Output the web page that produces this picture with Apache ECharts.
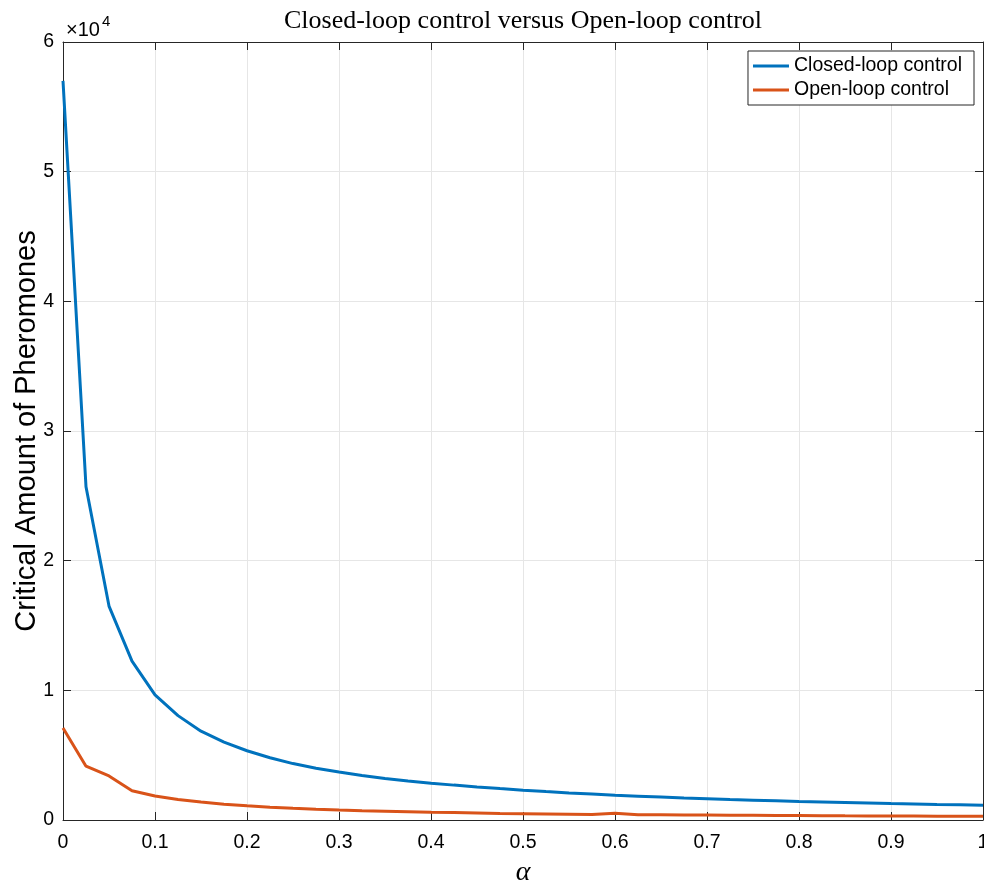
<!DOCTYPE html>
<html>
<head>
<meta charset="utf-8">
<script src="https://cdn.jsdelivr.net/npm/echarts@6/dist/echarts.min.js"></script>
<style>
html, body { margin: 0; padding: 0; background: #fff; }
#chart { width: 984px; height: 887px; }
</style>
</head>
<body>
<div id="chart"></div>
<script>
// alpha sample points (step 0.025)
const alphaValues = [0, 0.025, 0.05, 0.075, 0.1, 0.125, 0.15, 0.175, 0.2, 0.225, 0.25, 0.275, 0.3, 0.325, 0.35, 0.375, 0.4, 0.425, 0.45, 0.475, 0.5, 0.525, 0.55, 0.575, 0.6, 0.625, 0.65, 0.675, 0.7, 0.725, 0.75, 0.775, 0.8, 0.825, 0.85, 0.875, 0.9, 0.925, 0.95, 0.975, 1.0];

// critical amount of pheromones, closed-loop control
const closedLoop = [57000, 25700, 16500, 12250, 9650, 8050, 6850, 6000, 5340, 4800, 4350, 3990, 3700, 3440, 3200, 3010, 2840, 2690, 2550, 2420, 2300, 2190, 2090, 2000, 1910, 1840, 1770, 1700, 1640, 1580, 1530, 1480, 1430, 1390, 1350, 1310, 1270, 1240, 1200, 1170, 1140];

// critical amount of pheromones, open-loop control
const openLoop = [7100, 4150, 3400, 2250, 1850, 1580, 1380, 1220, 1090, 990, 900, 830, 770, 720, 680, 640, 600, 570, 540, 510, 490, 470, 450, 430, 520, 410, 400, 390, 380, 370, 360, 350, 340, 330, 320, 315, 305, 300, 290, 285, 280];

const xTicks = { min: 0, max: 1, interval: 0.1 };
const yTicks = { min: 0, max: 60000, interval: 10000 };

const axisColor = '#262626';
const gridColor = '#e6e6e6';
const sansFont = '"Liberation Sans", Arial, sans-serif';
const serifFont = '"Liberation Serif", "DejaVu Serif", serif';

const pair = (xs, ys) => xs.map((x, i) => [x, ys[i]]);

const chart = echarts.init(document.getElementById('chart'), null, { renderer: 'canvas' });

const baseTick = { show: true, inside: true, length: 8, lineStyle: { color: axisColor, width: 1 } };

chart.setOption({
  animation: false,
  backgroundColor: '#ffffff',
  title: {
    text: 'Closed-loop control versus Open-loop control',
    left: 518, top: 3, textAlign: 'center',
    textStyle: { fontFamily: serifFont, fontWeight: 'normal', fontSize: 26, color: '#000' }
  },
  grid: { left: 63, right: 1, top: 42, bottom: 67, containLabel: false, outerBoundsMode: 'none' },
  legend: {
    right: 10, top: 51,
    orient: 'vertical',
    backgroundColor: '#fff',
    borderColor: axisColor, borderWidth: 1,
    padding: [5, 12, 5, 5],
    itemWidth: 36, itemHeight: 3, itemGap: 4,
    icon: 'rect',
    textStyle: { fontFamily: sansFont, fontSize: 19.5, color: '#000' },
    data: ['Closed-loop control', 'Open-loop control']
  },
  xAxis: [
    {
      type: 'value', min: xTicks.min, max: xTicks.max, interval: xTicks.interval,
      name: 'α', nameLocation: 'middle', nameGap: 39, nameMoveOverlap: false,
      nameTextStyle: { fontFamily: serifFont, fontStyle: 'italic', fontSize: 28, color: '#000' },
      axisLine: { show: true, onZero: false, lineStyle: { color: axisColor, width: 1 } },
      axisTick: baseTick,
      axisLabel: { fontFamily: sansFont, fontSize: 19.5, color: '#000', margin: 13 },
      splitLine: { show: true, lineStyle: { color: gridColor, width: 1 } }
    },
    {
      type: 'value', position: 'top', min: xTicks.min, max: xTicks.max, interval: xTicks.interval,
      axisLine: { show: true, onZero: false, lineStyle: { color: axisColor, width: 1 } },
      axisTick: baseTick, axisLabel: { show: false }, splitLine: { show: false }
    }
  ],
  yAxis: [
    {
      type: 'value', min: yTicks.min, max: yTicks.max, interval: yTicks.interval,
      name: 'Critical Amount of Pheromones', nameLocation: 'middle', nameGap: 22, nameMoveOverlap: false,
      nameTextStyle: { fontFamily: sansFont, fontSize: 29, color: '#000' },
      axisLine: { show: true, onZero: false, lineStyle: { color: axisColor, width: 1 } },
      axisTick: baseTick,
      axisLabel: { fontFamily: sansFont, fontSize: 19.5, color: '#000', margin: 9,
                   formatter: v => String(v / 10000) },
      splitLine: { show: true, lineStyle: { color: gridColor, width: 1 } }
    },
    {
      type: 'value', position: 'right', min: yTicks.min, max: yTicks.max, interval: yTicks.interval,
      axisLine: { show: true, onZero: false, lineStyle: { color: axisColor, width: 1 } },
      axisTick: baseTick, axisLabel: { show: false }, splitLine: { show: false }
    }
  ],
  graphic: [
    {
      type: 'text',
      style: { x: 66, y: 30, text: '×10', verticalAlign: 'middle',
               font: '20px "Liberation Sans", Arial, sans-serif', fill: '#000' }
    },
    {
      type: 'text',
      style: { x: 102, y: 22, text: '4', verticalAlign: 'middle',
               font: '15px "Liberation Sans", Arial, sans-serif', fill: '#000' }
    }
  ],
  series: [
    {
      name: 'Closed-loop control', type: 'line', xAxisIndex: 0, yAxisIndex: 0,
      data: pair(alphaValues, closedLoop),
      showSymbol: false, symbol: 'none',
      lineStyle: { color: '#0072BD', width: 3 }, itemStyle: { color: '#0072BD' }
    },
    {
      name: 'Open-loop control', type: 'line', xAxisIndex: 0, yAxisIndex: 0,
      data: pair(alphaValues, openLoop),
      showSymbol: false, symbol: 'none',
      lineStyle: { color: '#D95319', width: 3 }, itemStyle: { color: '#D95319' }
    }
  ]
});
</script>
</body>
</html>
